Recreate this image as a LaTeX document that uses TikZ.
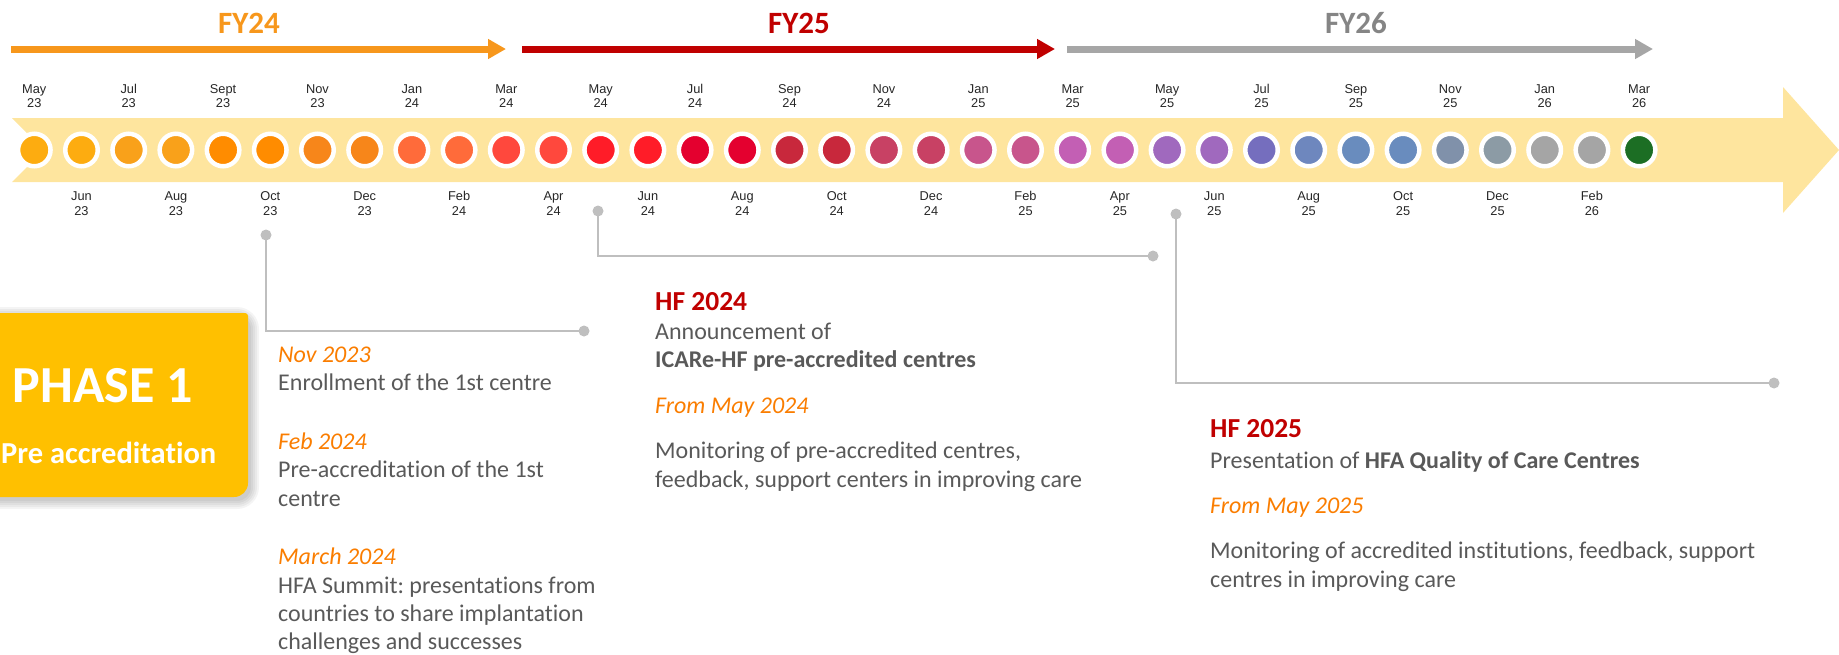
\documentclass[tikz,border=0pt]{standalone}
\usepackage{fontspec}
\setmainfont{Carlito}[Ligatures=NoCommon]
\newfontfamily\monthfont{Liberation Sans}
\usetikzlibrary{arrows.meta}
\frenchspacing
\definecolor{bandc}{HTML}{FEE59E}
\definecolor{fyorange}{HTML}{F7971C}
\definecolor{fyred}{HTML}{C00000}
\definecolor{fygrayline}{HTML}{A6A6A6}
\definecolor{fygraytext}{HTML}{858585}
\definecolor{txtgray}{HTML}{595959}
\definecolor{itorange}{HTML}{FA7D00}
\definecolor{conngray}{HTML}{BFBFBF}
\definecolor{phasec}{HTML}{FFC000}
\definecolor{monthc}{HTML}{262626}
\tikzset{
  fyarrow/.style={line width=7pt,-{Triangle[length=18pt,width=19pt]}},
  fylabel/.style={font=\fontsize{31}{36}\selectfont\bfseries,inner sep=0,anchor=base},
  mcirc/.style={circle,draw=white,line width=4.5pt,minimum size=32.5pt,inner sep=0},
  mlabel/.style={font=\monthfont\fontsize{12.8}{14}\selectfont,text=monthc,inner sep=0,anchor=base},
  body/.style={font=\fontsize{24}{28}\selectfont,text=txtgray,inner sep=0,anchor=base west},
  itdate/.style={font=\fontsize{24}{28}\selectfont\itshape,text=itorange,inner sep=0,anchor=base west},
  hfhead/.style={font=\fontsize{27.5}{32}\selectfont\bfseries,text=fyred,inner sep=0,anchor=base west},
  dot/.style={circle,fill=conngray,minimum size=11pt,inner sep=0},
  conn/.style={draw=conngray,line width=2.5pt},
}
\begin{document}
\begin{tikzpicture}[x=1pt,y=-1pt]
\useasboundingbox (0,0) rectangle (1839,654);
% FY arrows
\coordinate (fy24s) at (11,49); \coordinate (fy24e) at (506,49);
\coordinate (fy25s) at (522,49); \coordinate (fy25e) at (1055,49);
\coordinate (fy26s) at (1067,49); \coordinate (fy26e) at (1653,49);
\draw[fyarrow,fyorange] (fy24s) -- (fy24e);
\draw[fyarrow,fyred] (fy25s) -- (fy25e);
\draw[fyarrow,fygrayline] (fy26s) -- (fy26e);
\node[fylabel,text=fyorange] (fy24) at (249,33) {FY24};
\node[fylabel,text=fyred] (fy25) at (799,33) {FY25};
\node[fylabel,text=fygraytext] (fy26) at (1356,33) {FY26};
% band
\fill[bandc] (12,118) -- (1783,118) -- (1783,87) -- (1839,150) -- (1783,213) -- (1783,182) -- (12,182) -- (44,150) -- cycle;
% circles
\foreach \c [count=\i from 0] in {FDAC10,FDAC10,F9A11A,F9A11A,FF8C00,FF8C00,F7861A,F7861A,FF6B3A,FF6B3A,FF483D,FF483D,FF1C28,FF1C28,E4002F,E4002F,C8283C,C8283C,C84164,C84164,C8558C,C8558C,C35FB4,C35FB4,A069BE,A069BE,756EBE,6E87BE,698CBE,698CBE,8091AA,8C9BA5,A5A5A5,A5A5A5,1C6E24}{
  \definecolor{cc}{HTML}{\c}
  \node[mcirc,fill=cc] (c\i) at ({34.3+47.2*\i},150) {};
}
% month labels
\foreach \m/\y [count=\k from 0] in {May/23,Jul/23,Sept/23,Nov/23,Jan/24,Mar/24,May/24,Jul/24,Sep/24,Nov/24,Jan/25,Mar/25,May/25,Jul/25,Sep/25,Nov/25,Jan/26,Mar/26}{
  \node[mlabel] (tm\k) at ({34.3+47.2*2*\k},93) {\m};
  \node[mlabel] (ty\k) at ({34.3+47.2*2*\k},107) {\y};
}
\foreach \m/\y [count=\k from 0] in {Jun/23,Aug/23,Oct/23,Dec/23,Feb/24,Apr/24,Jun/24,Aug/24,Oct/24,Dec/24,Feb/25,Apr/25,Jun/25,Aug/25,Oct/25,Dec/25,Feb/26}{
  \node[mlabel] (bm\k) at ({34.3+47.2*(2*\k+1)},200) {\m};
  \node[mlabel] (by\k) at ({34.3+47.2*(2*\k+1)},215) {\y};
}
% connectors
\node[dot] (d1a) at (266,235) {};
\node[dot] (d1b) at (584,331) {};
\draw[conn] (d1a.center) |- (d1b.center);
\node[dot] (d2a) at (598,211) {};
\node[dot] (d2b) at (1153,256) {};
\draw[conn] (d2a.center) |- (d2b.center);
\node[dot] (d3a) at (1176,214) {};
\node[dot] (d3b) at (1774,383) {};
\draw[conn] (d3a.center) |- (d3b.center);
% phase box shadow and box
\foreach \e in {0,2,4,6,8}{
  \fill[black,opacity=0.045,rounded corners={14+\e}] (-40,{315-\e}) rectangle ({251+\e},{501+\e});
}
\fill[phasec] (-40,313) -- (245,313) arc[start angle=-90,end angle=0,radius=3] -- (248,483) arc[start angle=0,end angle=90,radius=14] -- (-40,497) -- cycle;
\node[font=\fontsize{52}{60}\selectfont\bfseries,text=white,inner sep=0,anchor=base] (ph1) at (103,402) {PHASE 1};
\node[font=\fontsize{30.5}{36}\selectfont\bfseries,text=white,inner sep=0,anchor=base west] (ph2) at (1,463) {Pre accreditation};
% block 1
\node[itdate] (n1) at (278,362) {Nov 2023};
\node[body] (n1t) at (278,390) {Enrollment of the 1st centre};
\node[itdate] (n2) at (278,449) {Feb 2024};
\node[body] (n2t) at (278,477) {Pre-accreditation of the 1st};
\node[body] (n2u) at (278,506) {centre};
\node[itdate] (n3) at (278,564) {March 2024};
\node[body] (n3t) at (278,593) {HFA Summit: presentations from};
\node[body] (n3u) at (278,621) {countries to share implantation};
\node[body] (n3v) at (278,649) {challenges and successes};
% block 2
\node[hfhead] (h24) at (655,310) {HF 2024};
\node[body] (h24a) at (655,339) {Announcement of};
\node[body] (h24b) at (655,367) {\bfseries ICARe-HF pre-accredited centres};
\node[itdate] (h24c) at (655,413) {From May 2024};
\node[body] (h24d) at (655,458) {Monitoring of pre-accredited centres,};
\node[body] (h24e) at (655,487) {feedback, support centers in improving care};
% block 3
\node[hfhead] (h25) at (1210,437) {HF 2025};
\node[body] (h25a) at (1210,468) {Presentation of \textbf{HFA Quality of Care Centres}};
\node[itdate] (h25c) at (1210,513) {From May 2025};
\node[body] (h25d) at (1210,558) {Monitoring of accredited institutions, feedback, support};
\node[body] (h25e) at (1210,587) {centres in improving care};
\end{tikzpicture}
\end{document}
